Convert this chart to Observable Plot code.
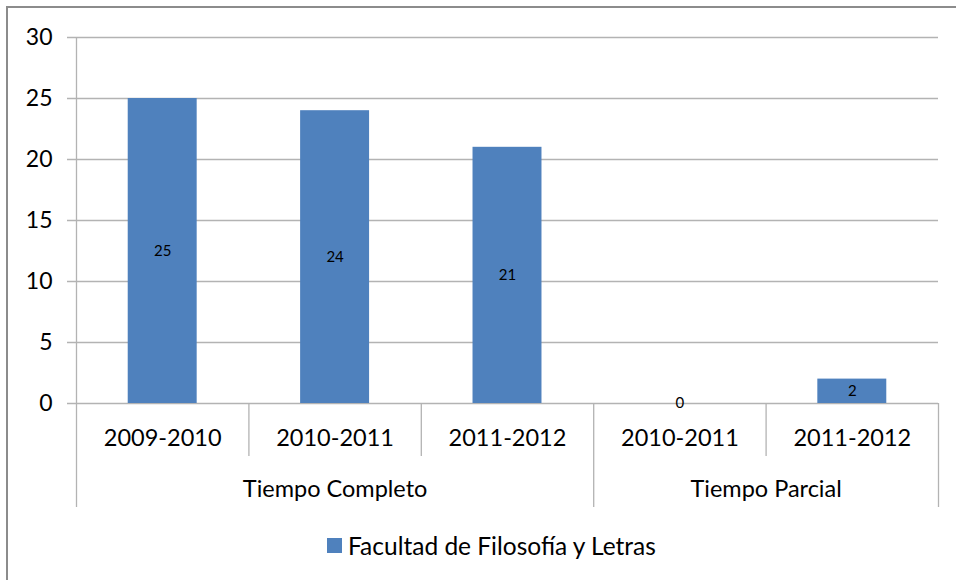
<!DOCTYPE html>
<html>
<head>
<meta charset="utf-8">
<script src="https://cdn.jsdelivr.net/npm/d3@7"></script>
<script src="https://cdn.jsdelivr.net/npm/@observablehq/plot@0.6"></script>
<style>
  body { margin: 0; background: #fff; }
  #wrap { position: relative; width: 956px; height: 580px; overflow: hidden; font-family: Lato, "Open Sans", sans-serif; }
  #frame { position: absolute; left: 6px; top: 6px; width: 1200px; height: 1200px; border: 2px solid #8c8c8c; box-sizing: border-box; }
  #chart { position: absolute; left: 0; top: 0; }
  #legend { position: absolute; left: 327px; top: 530px; height: 30px; display: flex; align-items: center; gap: 6px; font-size: 24.5px; color: #000; white-space: nowrap; }
  #legend .sw { width: 15px; height: 15px; background: #4F81BD; }
</style>
</head>
<body>
<div id="wrap">
  <div id="frame"></div>
  <div id="chart"></div>
  <div id="legend"></div>
</div>
<script>
const years = ["2009-2010", "2010-2011", "2011-2012", "2010-2011", "2011-2012"];
const groups = ["Tiempo Completo", "Tiempo Completo", "Tiempo Completo", "Tiempo Parcial", "Tiempo Parcial"];
const values = [25, 24, 21, 0, 2];
const seriesName = "Facultad de Filosofía y Letras";
const yTicks = [0, 5, 10, 15, 20, 25, 30];

const barColor = "#4F81BD";
const gridColor = "#b3b3b3";

const rows = years.map((y, i) => ({i, year: y, group: groups[i], value: values[i]}));

// group spans
const groupSpans = [];
groups.forEach((g, i) => {
  const last = groupSpans[groupSpans.length - 1];
  if (last && last.group === g) last.end = i + 1;
  else groupSpans.push({group: g, start: i, end: i + 1});
});

// boundaries between categories
const boundaries = d3.range(0, years.length + 1).map(b => ({
  b,
  long: b === 0 || b === years.length || groups[b] !== groups[b - 1]
}));

const chart = Plot.plot({
  width: 956,
  height: 520,
  marginLeft: 76,
  marginRight: 18,
  marginTop: 37,
  marginBottom: 117,
  style: {fontFamily: "Lato, 'Open Sans', sans-serif", color: "#000", background: "transparent", overflow: "visible"},
  x: {type: "linear", domain: [0, years.length], axis: null},
  y: {domain: [0, 30], axis: null},
  marks: [
    Plot.ruleY(yTicks, {stroke: gridColor, strokeWidth: 1.3, insetLeft: -9}),
    Plot.ruleX([0], {y1: 30, y2: 0, stroke: gridColor, strokeWidth: 1.3}),
    Plot.ruleX(boundaries.filter(d => !d.long), {x: "b", y1: 0, y2: 0, insetBottom: -53, stroke: gridColor, strokeWidth: 1.3}),
    Plot.ruleX(boundaries.filter(d => d.long), {x: "b", y1: 0, y2: 0, insetBottom: -104, stroke: gridColor, strokeWidth: 1.3}),
    Plot.text(yTicks, {x: 0, y: d => d, text: d => String(d), textAnchor: "end", dx: -24, fontSize: 23, fill: "#000"}),
    Plot.rectY(rows, {x1: d => d.i + 0.3, x2: d => d.i + 0.7, y1: 0, y2: "value", fill: barColor}),
    Plot.text(rows, {x: d => d.i + 0.5, y: d => d.value / 2, text: d => String(d.value), fontSize: 15, fill: "#000"}),
    Plot.text(rows, {x: d => d.i + 0.5, y: 0, text: "year", dy: 35, fontSize: 23.5, fill: "#000"}),
    Plot.text(groupSpans, {x: d => (d.start + d.end) / 2, y: 0, text: "group", dy: 86, fontSize: 23.5, fill: "#000"})
  ]
});
document.getElementById("chart").appendChild(chart);

const legend = document.getElementById("legend");
legend.innerHTML = `<div class="sw"></div><span>${seriesName}</span>`;
</script>
</body>
</html>
